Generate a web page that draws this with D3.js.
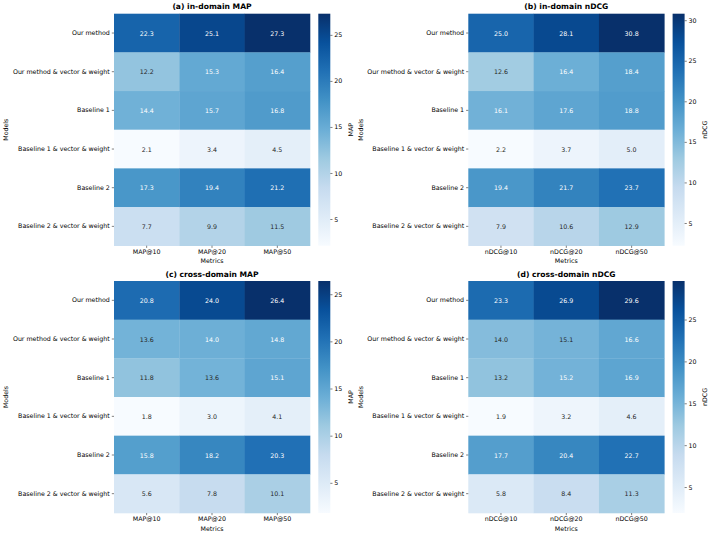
<!DOCTYPE html>
<html lang="en">
<head>
<meta charset="UTF-8">
<script src="https://d3js.org/d3.v7.min.js"></script>
<style>
    body { margin: 0; background: #fff; }
    text { font-family: "DejaVu Sans", sans-serif; }
    .tick text { font-size: 6.3px; fill: #000; }
    .tick line { stroke: #000; stroke-width: 0.5; }
    .title { font-size: 7.6px; font-weight: bold; text-anchor: middle; }
    .label { font-size: 6.3px; text-anchor: middle; }
    .annot { font-size: 6.3px; text-anchor: middle; dominant-baseline: central; }
</style>
</head>
<body>
<svg id="chart" width="714" height="537"></svg>
<script>
// data
const models = ["Our method", "Our method & vector & weight", "Baseline 1",
    "Baseline 1 & vector & weight", "Baseline 2", "Baseline 2 & vector & weight"];
const mapMetrics = ["MAP@10", "MAP@20", "MAP@50"];
const ndcgMetrics = ["nDCG@10", "nDCG@20", "nDCG@50"];

const inDomainMAP = [
    [22.3, 25.1, 27.3],
    [12.2, 15.3, 16.4],
    [14.4, 15.7, 16.8],
    [2.1, 3.4, 4.5],
    [17.3, 19.4, 21.2],
    [7.7, 9.9, 11.5]
];
const inDomainNDCG = [
    [25.0, 28.1, 30.8],
    [12.6, 16.4, 18.4],
    [16.1, 17.6, 18.8],
    [2.2, 3.7, 5.0],
    [19.4, 21.7, 23.7],
    [7.9, 10.6, 12.9]
];
const crossDomainMAP = [
    [20.8, 24.0, 26.4],
    [13.6, 14.0, 14.8],
    [11.8, 13.6, 15.1],
    [1.8, 3.0, 4.1],
    [15.8, 18.2, 20.3],
    [5.6, 7.8, 10.1]
];
const crossDomainNDCG = [
    [23.3, 26.9, 29.6],
    [14.0, 15.1, 16.6],
    [13.2, 15.2, 16.9],
    [1.9, 3.2, 4.6],
    [17.7, 20.4, 22.7],
    [5.8, 8.4, 11.3]
];

const panels = [
    {title: "(a) in-domain MAP", values: inDomainMAP, metrics: mapMetrics, cbar: "MAP"},
    {title: "(b) in-domain nDCG", values: inDomainNDCG, metrics: ndcgMetrics, cbar: "nDCG"},
    {title: "(c) cross-domain MAP", values: crossDomainMAP, metrics: mapMetrics, cbar: "MAP"},
    {title: "(d) cross-domain nDCG", values: crossDomainNDCG, metrics: ndcgMetrics, cbar: "nDCG"}
];

// matplotlib "Blues"
const bluesColors = ["#f7fbff", "#deebf7", "#c6dbef", "#9ecae1", "#6baed6",
    "#4292c6", "#2171b5", "#08519c", "#08306b"];
const blues = d3.scaleLinear()
    .domain(d3.range(9).map(i => i / 8))
    .range(bluesColors)
    .interpolate(d3.interpolateRgb)
    .clamp(true);

// seaborn picks annotation colour from luminance
function textColor(c) {
    const rgb = d3.rgb(c);
    const lin = v => { v = v / 255; return v <= 0.03928 ? v / 12.92 : Math.pow((v + 0.055) / 1.055, 2.4); };
    const lum = 0.2126 * lin(rgb.r) + 0.7152 * lin(rgb.g) + 0.0722 * lin(rgb.b);
    return lum > 0.408 ? "#262626" : "#fff";
}

const svg = d3.select("#chart");
const hmW = 196, hmH = 232;
const colX = [114, 468.3];
const rowY = [13.7, 281];
const modelsLabelX = [6, 360.5];   // absolute x of the "Models" label
const cbGap = 8.3, cbW = 12;
const tickLen = 2.2;

panels.forEach((p, i) => {
    const col = i % 2;
    const x0 = colX[col], y0 = rowY[Math.floor(i / 2)];
    const g = svg.append("g").attr("transform", `translate(${x0},${y0})`);

    const x = d3.scaleBand().domain(p.metrics).range([0, hmW]);
    const y = d3.scaleBand().domain(models).range([0, hmH]);
    const ext = d3.extent(p.values.flat());
    const norm = d3.scaleLinear().domain(ext).range([0, 1]);
    const color = v => blues(norm(v));

    const cells = [];
    p.values.forEach((row, r) => row.forEach((v, c) => cells.push({model: models[r], metric: p.metrics[c], v})));

    g.selectAll("rect.cell").data(cells).enter().append("rect")
        .attr("class", "cell")
        .attr("x", d => x(d.metric))
        .attr("y", d => y(d.model))
        .attr("width", x.bandwidth() + 0.3)
        .attr("height", y.bandwidth() + 0.3)
        .attr("fill", d => color(d.v));

    g.selectAll("text.annot").data(cells).enter().append("text")
        .attr("class", "annot")
        .attr("x", d => x(d.metric) + x.bandwidth() / 2)
        .attr("y", d => y(d.model) + y.bandwidth() / 2)
        .attr("fill", d => textColor(color(d.v)))
        .text(d => d3.format(".1f")(d.v));

    const yAxis = g.append("g")
        .call(d3.axisLeft(y).tickSize(tickLen).tickPadding(2));
    const xAxis = g.append("g")
        .attr("transform", `translate(0,${hmH})`)
        .call(d3.axisBottom(x).tickSize(tickLen).tickPadding(1.8));
    [xAxis, yAxis].forEach(a => {
        a.select(".domain").remove();
        a.attr("font-family", null).attr("font-size", null);
    });

    g.append("text").attr("class", "title")
        .attr("x", hmW / 2).attr("y", -4.5)
        .text(p.title);
    g.append("text").attr("class", "label")
        .attr("x", hmW / 2).attr("y", hmH + 17.5)
        .text("Metrics");
    g.append("text").attr("class", "label")
        .attr("transform", `translate(${modelsLabelX[col] - x0 + 2},${hmH / 2}) rotate(-90)`)
        .text("Models");

    // colour bar
    const cb = g.append("g").attr("transform", `translate(${hmW + cbGap},0)`);
    const gradId = "grad" + i;
    const grad = svg.append("defs").append("linearGradient")
        .attr("id", gradId)
        .attr("x1", 0).attr("y1", 1).attr("x2", 0).attr("y2", 0);
    d3.range(0, 1.0001, 0.125).forEach(t => {
        grad.append("stop").attr("offset", t).attr("stop-color", blues(t));
    });
    cb.append("rect")
        .attr("width", cbW).attr("height", hmH)
        .attr("fill", `url(#${gradId})`);
    const cbScale = d3.scaleLinear().domain(ext).range([hmH, 0]);
    const cbTicks = d3.range(5, ext[1], 5).filter(t => t >= ext[0]);
    const cbAxis = cb.append("g")
        .attr("transform", `translate(${cbW},0)`)
        .call(d3.axisRight(cbScale).tickValues(cbTicks).tickSize(tickLen).tickPadding(1.8).tickFormat(d3.format("d")));
    cbAxis.select(".domain").remove();
    cbAxis.attr("font-family", null).attr("font-size", null);
    cb.append("text").attr("class", "label")
        .attr("transform", `translate(${cbW + 22.5},${hmH / 2}) rotate(-90)`)
        .text(p.cbar);
});
</script>
</body>
</html>
